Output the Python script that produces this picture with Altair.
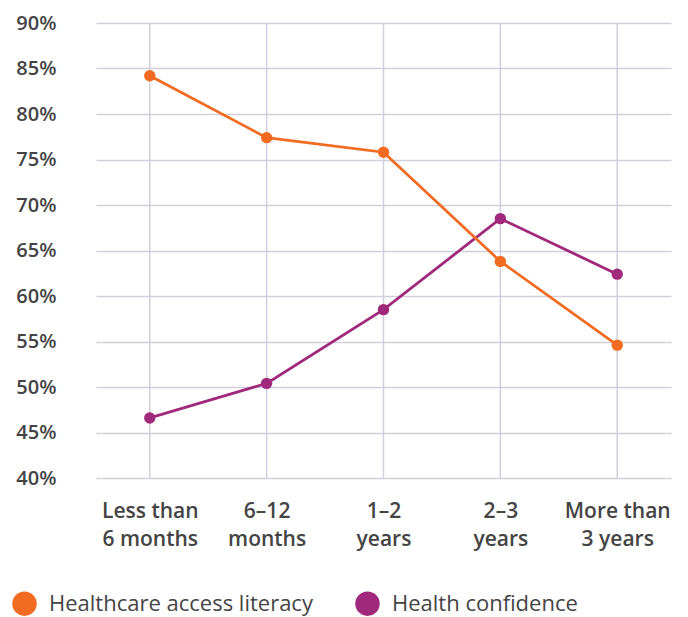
import altair as alt
import pandas as pd

categories = ["Less than 6 months", "6–12 months", "1–2 years", "2–3 years", "More than 3 years"]
tick_lines = [["Less than", "6 months"], ["6–12", "months"], ["1–2", "years"], ["2–3", "years"], ["More than", "3 years"]]
series = ["Healthcare access literacy", "Health confidence"]
literacy = [84.2, 77.4, 75.8, 63.8, 54.6]
confidence = [46.6, 50.4, 58.5, 68.5, 62.4]
colors = ["#F26B21", "#A0297B"]
y_ticks = [40, 45, 50, 55, 60, 65, 70, 75, 80, 85, 90]

rows = []
for c, v in zip(categories, confidence):
    rows.append({"period": c, "series": series[1], "value": v})
for c, v in zip(categories, literacy):
    rows.append({"period": c, "series": series[0], "value": v})
df = pd.DataFrame(rows)
cat_df = pd.DataFrame({"period": categories})

label_map = "{" + ",".join(
    "'%s': ['%s','%s']" % (c, a, b) for c, (a, b) in zip(categories, tick_lines)
) + "}"

FONT = "Open Sans"
GRID = "#D2CEDC"
TEXT = "#444444"

x = alt.X(
    "period:N",
    sort=categories,
    scale=alt.Scale(type="point", padding=0.46),
    axis=alt.Axis(
        title=None, labelAngle=0, domain=False, ticks=False, grid=False,
        labelFont=FONT, labelFontSize=21, labelFontWeight=600, labelColor=TEXT,
        labelPadding=22, labelLineHeight=28, labelBaseline="top", labelAlign="center",
        labelExpr=label_map + "[datum.label]",
    ),
)
y = alt.Y(
    "value:Q",
    scale=alt.Scale(domain=[40, 90], nice=False, zero=False),
    axis=alt.Axis(
        title=None, values=y_ticks, domain=False, ticks=False,
        grid=True, gridColor=GRID, gridWidth=1.5,
        labelFont=FONT, labelFontSize=20, labelFontWeight=600, labelColor=TEXT,
        labelPadding=40, labelExpr="datum.value + '%'",
    ),
)
color = alt.Color(
    "series:N",
    scale=alt.Scale(domain=series, range=colors),
    legend=alt.Legend(
        title=None, orient="none", direction="horizontal", columns=2,
        legendX=-84, legendY=568,
        symbolType="circle", symbolSize=600, symbolStrokeWidth=0, symbolOpacity=1,
        labelFont=FONT, labelFontSize=22, labelColor=TEXT, labelOffset=12,
        columnPadding=42, labelLimit=400,
    ),
)

vgrid = alt.Chart(cat_df).mark_rule(color=GRID, strokeWidth=1.5).encode(
    x=alt.X("period:N", sort=categories)
)

base = alt.Chart(df).encode(x=x, y=y, color=color)
lines = base.mark_line(strokeWidth=2.8)
points = base.mark_circle(size=130, opacity=1)

chart = (
    alt.layer(vgrid, lines, points)
    .properties(
        width=575, height=455,
        background="white",
        autosize=alt.AutoSizeParams(type="none"),
        padding={"left": 96, "top": 23, "right": 17, "bottom": 139},
    )
    .configure_view(stroke=None, strokeWidth=0)
)

chart.save("out.html", embed_options={"renderer": "svg", "actions": False})
